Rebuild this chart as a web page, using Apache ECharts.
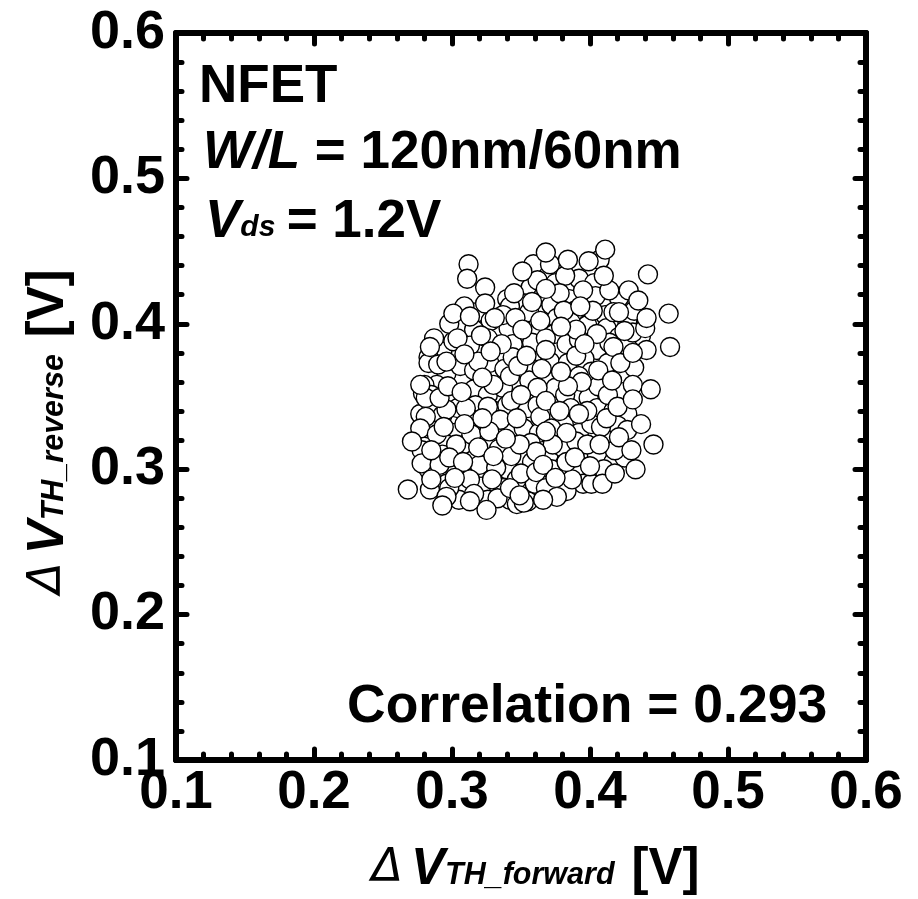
<!DOCTYPE html>
<html>
<head>
<meta charset="utf-8">
<style>
  html, body { margin: 0; padding: 0; background: #fff; }
  #chart { width: 918px; height: 899px; }
</style>
<script src="https://cdn.jsdelivr.net/npm/echarts@6/dist/echarts.min.js"></script>
</head>
<body>
<div id="chart"></div>
<script>
const fontName = '"Liberation Sans", Arial, sans-serif'

// deepest circles, mostly hidden in the cloud (estimated)
const deepForward = [
  .375,.392,.403,.357,.340,.353,.366,.385,.404,.421,.372,.318,.328,.356,.376,.389,.411,.427,.432,
  .306,.316,.341,.362,.374,.386,.398,.412,.421,.437,.293,.301,.313,.326,.344,.358,.368,.383,.392,.405,.414,.427,
  .283,.296,.306,.316,.327,.338,.344,.358,.371,.384,.396,.401,.413,.424,.432,
  .279,.289,.301,.316,.326,.337,.342,.356,.361,.375,.382,.392,.399,.406,.412,.424,
  .277,.285,.293,.304,.317,.331,.340,.355,.362,.372,.386,.398,.405,.417,.427,
  .283,.302,.313,.328,.343,.352,.363,.381,.392,.414,.420,
  .278,.296,.310,.326,.334,.350,.357,.370,.380,.390,.405,.417,.425,
  .283,.293,.302,.315,.324,.340,.347,.358,.372,.380,.393,.410,.395,
  .296,.306,.321,.337,.342,.360,.347,.383,.326,.305,.360
]
const deepReverse = [
  .428,.431,.428,.425,.417,.414,.419,.417,.419,.418,.413,.408,.402,.408,.404,.409,.406,.402,.409,
  .398,.396,.397,.398,.393,.401,.399,.397,.391,.392,.381,.388,.385,.390,.386,.387,.390,.386,.389,.382,.387,.384,
  .377,.366,.371,.368,.373,.369,.377,.369,.374,.373,.376,.367,.373,.362,.370,
  .352,.358,.350,.355,.351,.356,.364,.361,.350,.356,.351,.364,.349,.357,.345,.353,
  .338,.344,.337,.342,.344,.340,.344,.342,.344,.337,.342,.334,.342,.340,.338,
  .328,.325,.335,.333,.327,.328,.325,.331,.325,.325,.330,
  .313,.317,.317,.318,.314,.309,.318,.310,.315,.319,.310,.305,.308,
  .300,.310,.300,.306,.298,.300,.293,.305,.300,.290,.300,.300,.290,
  .290,.284,.288,.287,.279,.285,.276,.285,.279,.279,.290
]

// circles underneath, only partly visible
const underForward = [
  .359,.371,.382,.407,.414,.378,.362,.358,.342,.309,.298,.402,.417,.431,.440,.441,.417,.422,.390,.405,
  .364,.381,.337,.287,.304,.336,.283,.290,.319,.348,.365,.390,.280,.285,.281,.330,.394,.384,.362,.343,
  .413,.326,.296,.281,.277,.289,.314,.303,.335,.364,.372,.401,.408,.427,.383,.373,.398,.418,.361,.343,
  .320,.278,.291,.298,.350,.361,.332,.387,.401,.368,.313,.284,.329,.333,.316,.355,.376,.313,.352,.342,
  .298,.383,.407,.398,.412,.368,.349,.327,.310,.291,.277
]
const underReverse = [
  .441,.441,.433,.444,.423,.421,.430,.415,.412,.412,.400,.409,.408,.394,.397,.382,.384,.373,.396,.393,
  .402,.409,.406,.390,.390,.386,.373,.372,.374,.371,.369,.378,.358,.351,.349,.358,.360,.357,.356,.347,
  .351,.343,.341,.336,.328,.324,.324,.317,.334,.336,.328,.331,.329,.327,.325,.317,.317,.313,.312,.309,
  .303,.304,.303,.308,.297,.298,.301,.293,.290,.287,.293,.286,.293,.280,.283,.278,.281,.278,.277,.287,
  .287,.305,.317,.340,.335,.326,.317,.326,.342,.349,.358
]

// circles on top, fully visible
const topForward = [
  .368,.411,.384,.399,.351,.312,.311,.442,.410,.368,.395,.324,.345,.428,.435,.324,.393,.301,.313,.331,
  .346,.421,.441,.457,.458,.351,.379,.425,.321,.396,.284,.368,.328,.354,.431,.296,.309,.406,.379,.322,
  .416,.431,.444,.297,.307,.350,.368,.420,.378,.392,.322,.347,.431,.294,.309,.437,.421,.446,.339,.319,
  .285,.271,.430,.389,.330,.308,.366,.433,.400,.375,.409,.285,.302,.268,.349,.366,.296,.325,.293,.418
]
const topReverse = [
  .449,.451,.444,.443,.436,.441,.431,.434,.433,.424,.423,.425,.421,.423,.416,.414,.412,.407,.405,.404,
  .404,.408,.404,.407,.384,.396,.398,.395,.392,.386,.384,.382,.381,.378,.380,.374,.379,.368,.367,.363,
  .361,.358,.355,.357,.353,.351,.347,.343,.340,.338,.335,.335,.348,.329,.331,.331,.322,.317,.321,.315,
  .313,.319,.313,.308,.309,.305,.303,.300,.302,.294,.290,.293,.294,.286,.282,.279,.281,.272,.275,.297
]

const zip = (a, b) => a.map((v, i) => [v, b[i]])
const points = zip(deepForward, deepReverse)
  .concat(zip(underForward, underReverse))
  .concat(zip(topForward, topReverse))

const chart = echarts.init(document.getElementById('chart'), null, { renderer: 'canvas' })

const labelStyle = {
  color: '#000',
  fontFamily: fontName,
  fontWeight: 'bold'
}

// 坐标轴公共配置
const baseAxis = {
  type: 'value',
  min: 0.1,
  max: 0.6,
  interval: 0.1,
  splitLine: { show: false },
  minorSplitLine: { show: false },
  axisLine: { onZero: false, lineStyle: { color: '#000', width: 6, cap: 'round' } },
  axisTick: { show: true, inside: true, length: 11, lineStyle: { color: '#000', width: 5, cap: 'round' } },
  minorTick: { show: true, splitNumber: 5, length: 6, lineStyle: { color: '#000', width: 5, cap: 'round' } }
}

const titleRich = {
  d: { fontFamily: '"DejaVu Sans", sans-serif', fontStyle: 'italic', fontSize: 46, color: '#000', padding: [0, 8, 0, 0] },
  v: { fontFamily: fontName, fontStyle: 'italic', fontWeight: 'bold', fontSize: 51, color: '#000' },
  s: { fontFamily: fontName, fontStyle: 'italic', fontWeight: 'bold', fontSize: 30.5, color: '#000', padding: [12, 0, 0, 0] },
  b: { fontFamily: fontName, fontWeight: 'bold', fontSize: 51, color: '#000' }
}

const option = {
  animation: false,
  backgroundColor: '#fff',
  grid: { left: 176, top: 33, width: 690, height: 727, outerBoundsMode: 'none' },
  xAxis: [
    Object.assign({}, baseAxis, {
      position: 'bottom',
      name: '{d|Δ}{v|V}{s|TH_forward  }{b|[V]}',
      nameLocation: 'middle',
      nameGap: 84,
      nameTextStyle: { rich: titleRich, padding: [0, 0, 0, 29] },
      axisLabel: Object.assign({}, labelStyle, {
        fontSize: 53,
        margin: 7,
        formatter: (v) => v.toFixed(1)
      })
    }),
    Object.assign({}, baseAxis, { position: 'top', axisLabel: { show: false } })
  ],
  yAxis: [
    Object.assign({}, baseAxis, {
      position: 'left',
      name: '{d|Δ}{v|V}{s|TH_reverse  }{b|[V]}',
      nameLocation: 'middle',
      nameGap: 102,
      nameTextStyle: { rich: titleRich, padding: [0, 70, 0, 0] },
      axisLabel: Object.assign({}, labelStyle, {
        fontSize: 54,
        margin: 11,
        padding: [0, 0, 6, 0],
        formatter: (v) => v.toFixed(1)
      })
    }),
    Object.assign({}, baseAxis, { position: 'right', axisLabel: { show: false } })
  ],
  series: [
    {
      type: 'scatter',
      data: points,
      symbol: 'circle',
      symbolSize: 19,
      itemStyle: { color: '#fff', borderColor: '#000', borderWidth: 1.4, opacity: 1 },
      silent: true
    }
  ],
  graphic: [
    {
      type: 'text', left: 199, top: 61,
      style: { text: 'NFET', fontFamily: fontName, fontWeight: 'bold', fontSize: 53, fill: '#000' }
    },
    {
      type: 'text', left: 203, top: 127,
      style: {
        text: '{i|W/L }{b|= 120nm/60nm}',
        rich: {
          i: { fontFamily: fontName, fontStyle: 'italic', fontWeight: 'bold', fontSize: 53, fill: '#000' },
          b: { fontFamily: fontName, fontWeight: 'bold', fontSize: 53, fill: '#000' }
        }
      }
    },
    {
      type: 'text', left: 205, top: 196,
      style: {
        text: '{i|V}{s|ds }{b|= 1.2V}',
        rich: {
          i: { fontFamily: fontName, fontStyle: 'italic', fontWeight: 'bold', fontSize: 53, fill: '#000' },
          s: { fontFamily: fontName, fontStyle: 'italic', fontWeight: 'bold', fontSize: 30, fill: '#000', padding: [10, 3, 0, 0] },
          b: { fontFamily: fontName, fontWeight: 'bold', fontSize: 53, fill: '#000' }
        }
      }
    },
    {
      type: 'text', left: 347, top: 680,
      style: { text: 'Correlation = 0.293', fontFamily: fontName, fontWeight: 'bold', fontSize: 53.5, fill: '#000' }
    }
  ]
}

chart.setOption(option)
</script>
</body>
</html>
